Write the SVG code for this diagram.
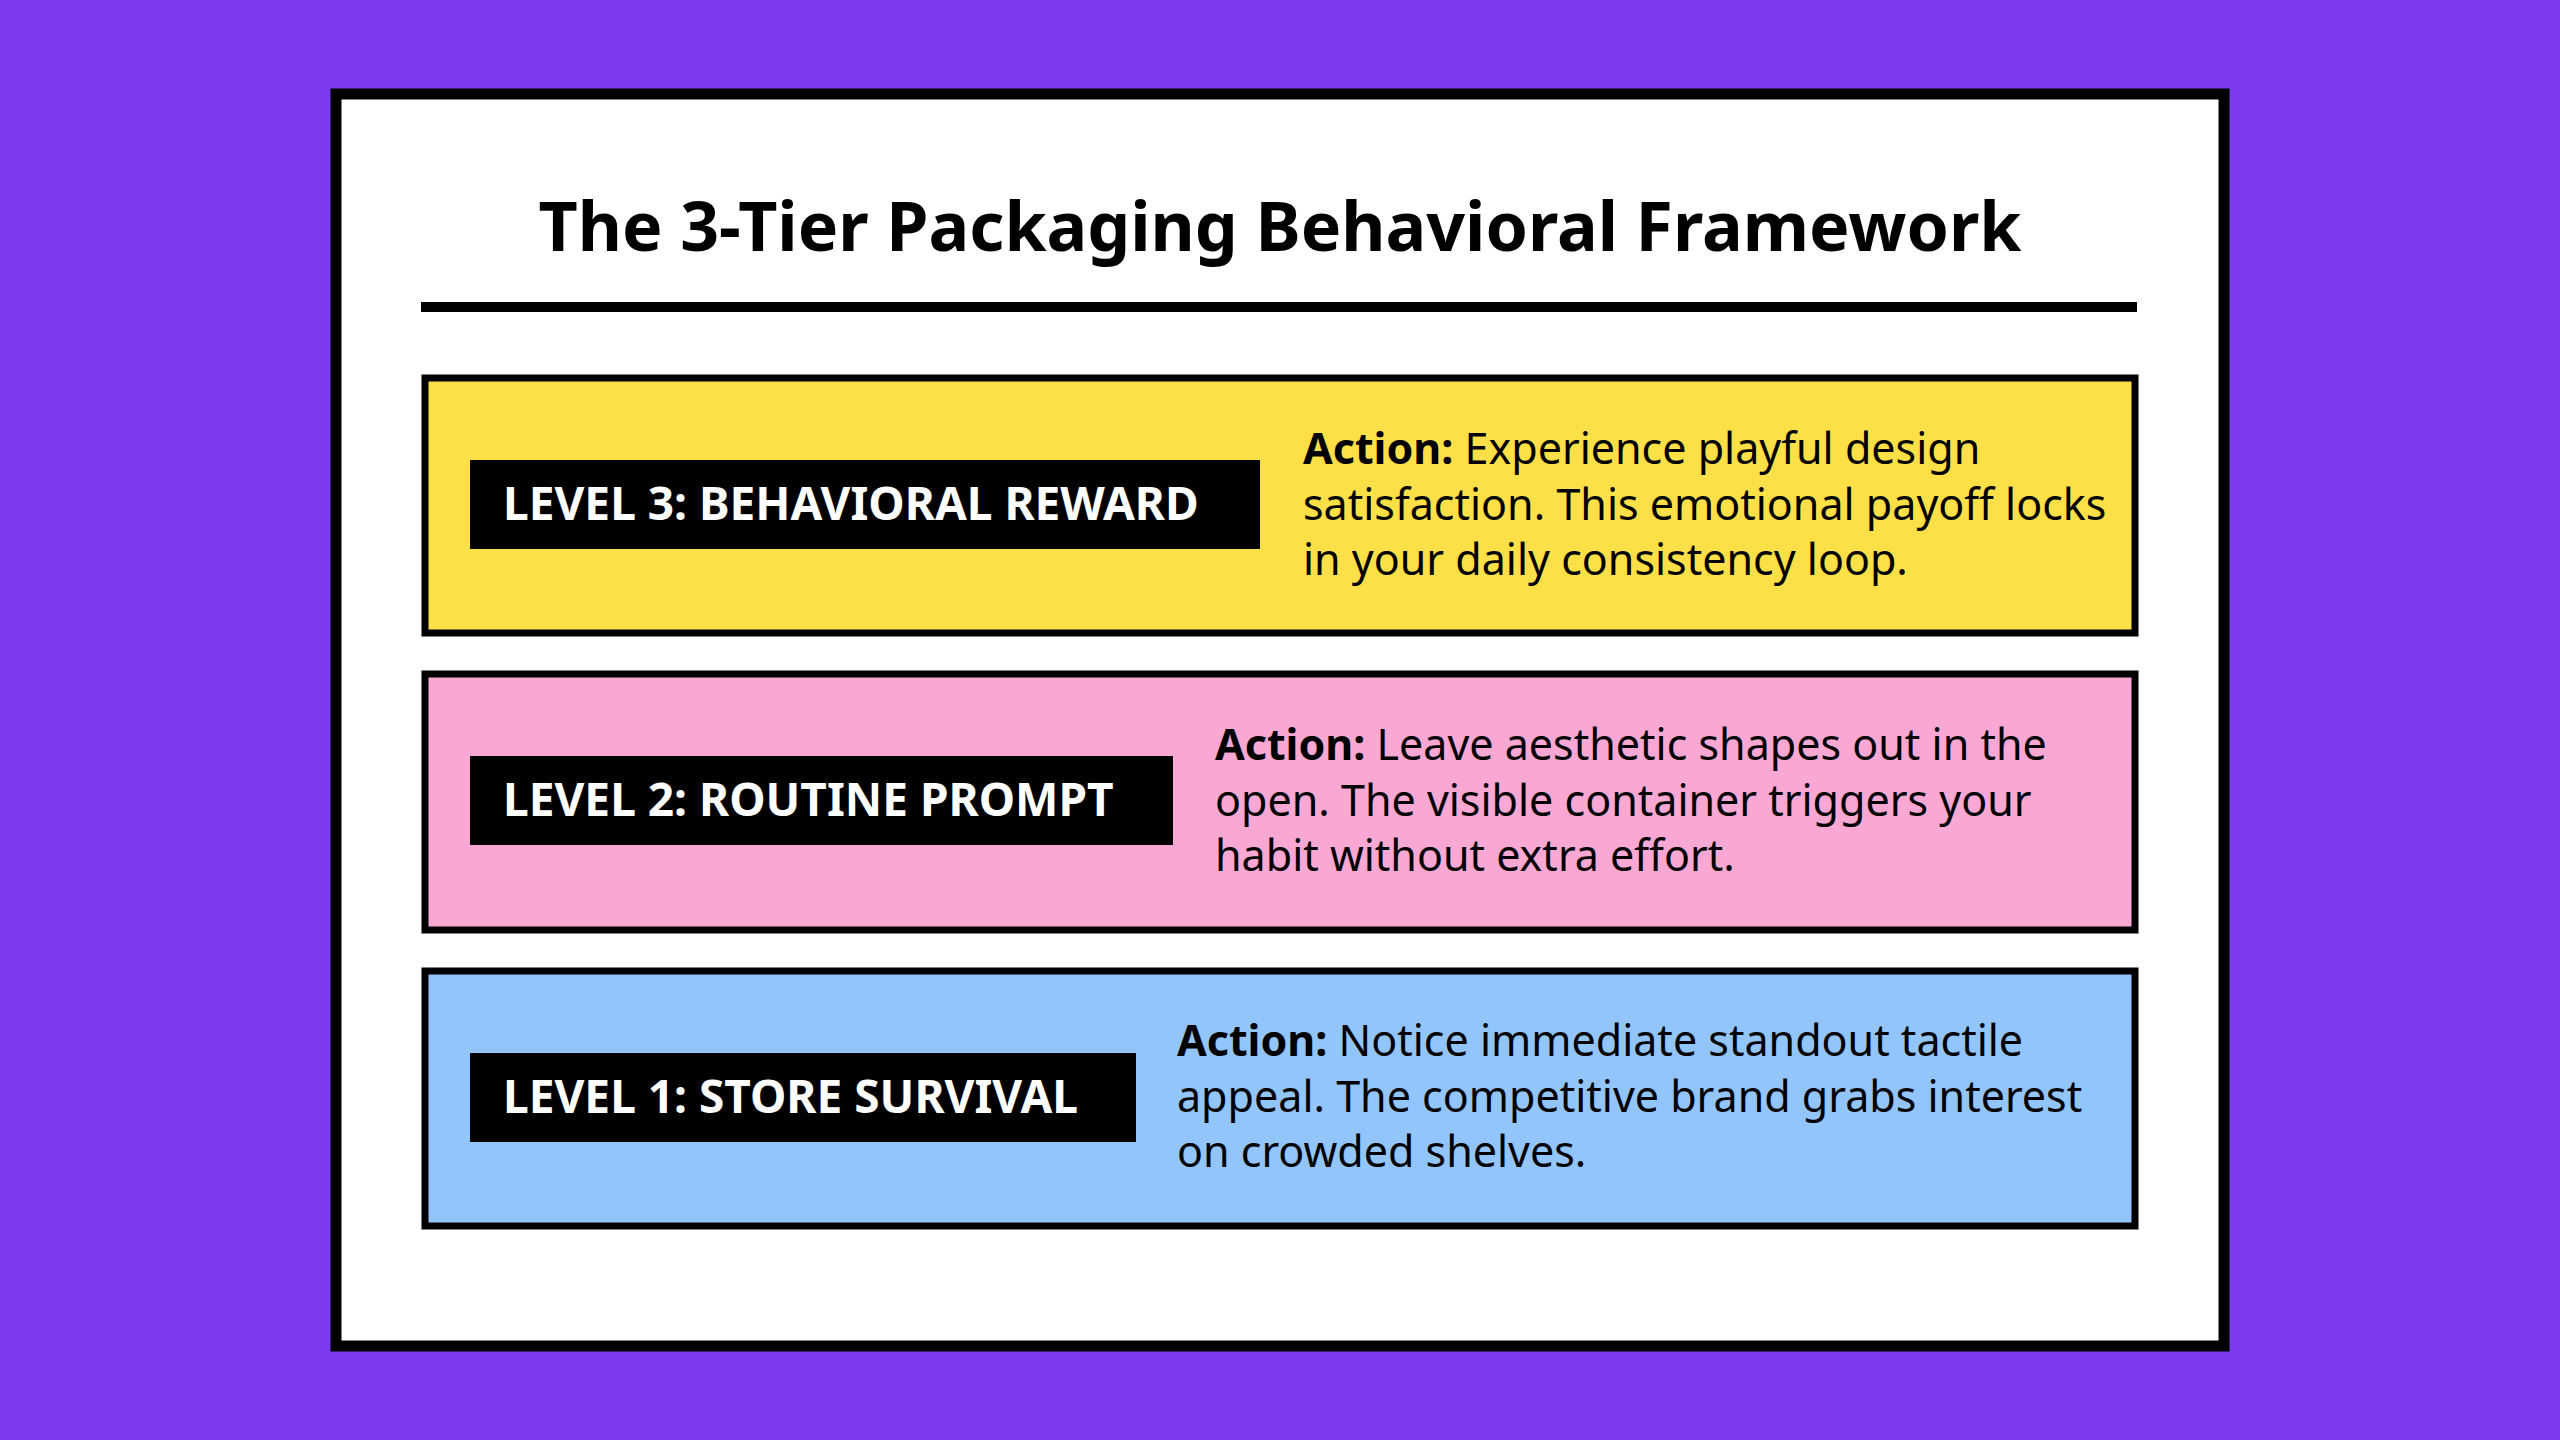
<svg xmlns="http://www.w3.org/2000/svg" width="2560" height="1440" viewBox="0 0 2560 1440">
<style>
.box{stroke:#000;stroke-width:7}
.lab{font-family:"Noto Sans","Open Sans",sans-serif;font-weight:700;font-size:46px;fill:#fff}
.desc{font-family:"Noto Sans","Open Sans",sans-serif;font-size:43px;fill:#000}
.b{font-weight:700}
</style>
<rect width="2560" height="1440" fill="#7C3AED"/>
<rect x="336" y="94" width="1888" height="1252" fill="#fff" stroke="#000" stroke-width="11"/>
<text x="1280" y="251" text-anchor="middle" font-family="Noto Sans,Open Sans,sans-serif" font-weight="700" font-size="68">The 3-Tier Packaging Behavioral Framework</text>
<rect x="421" y="302" width="1716" height="10" fill="#000"/>
<g id="level3">
<rect class="box" x="425" y="378" width="1710" height="255" fill="#FDE047"/>
<rect x="470" y="460" width="790" height="89" fill="#000"/>
<text class="lab" x="503" y="520">LEVEL 3: BEHAVIORAL REWARD</text>
<text class="desc" x="1303" y="464"><tspan class="b">Action:</tspan> Experience playful design</text>
<text class="desc" x="1303" y="520">satisfaction. This emotional payoff locks</text>
<text class="desc" x="1303" y="575">in your daily consistency loop.</text>
</g>
<g id="level2">
<rect class="box" x="425" y="674" width="1710" height="256" fill="#F9A8D4"/>
<rect x="470" y="756" width="703" height="89" fill="#000"/>
<text class="lab" x="503" y="816">LEVEL 2: ROUTINE PROMPT</text>
<text class="desc" x="1215" y="760"><tspan class="b">Action:</tspan> Leave aesthetic shapes out in the</text>
<text class="desc" x="1215" y="816">open. The visible container triggers your</text>
<text class="desc" x="1215" y="871">habit without extra effort.</text>
</g>
<g id="level1">
<rect class="box" x="425" y="971" width="1710" height="255" fill="#93C5FD"/>
<rect x="470" y="1053" width="666" height="89" fill="#000"/>
<text class="lab" x="503" y="1113">LEVEL 1: STORE SURVIVAL</text>
<text class="desc" x="1177" y="1056"><tspan class="b">Action:</tspan> Notice immediate standout tactile</text>
<text class="desc" x="1177" y="1112">appeal. The competitive brand grabs interest</text>
<text class="desc" x="1177" y="1167">on crowded shelves.</text>
</g>
<g id="connectors"/>
</svg>
